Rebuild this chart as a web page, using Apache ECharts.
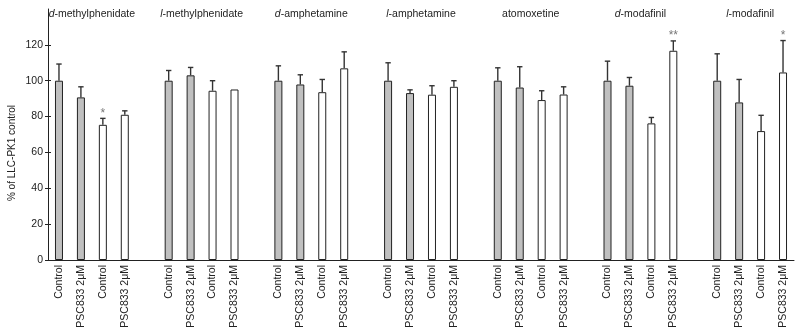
<!DOCTYPE html>
<html>
<head>
<meta charset="utf-8">
<script src="https://cdn.jsdelivr.net/npm/echarts@6/dist/echarts.min.js"></script>
<style>
  html, body { margin: 0; padding: 0; background: #fff; }
  #chart { width: 800px; height: 336px; }
</style>
</head>
<body>
<div id="chart"></div>
<script>
// drugs, each with 4 bars: gray control, gray PSC833, white control, white PSC833
const groups = ['d-methylphenidate', 'l-methylphenidate', 'd-amphetamine', 'l-amphetamine', 'atomoxetine', 'd-modafinil', 'l-modafinil']
const barLabels = ['Control', 'PSC833 2μM', 'Control', 'PSC833 2μM']
const barFill = ['#c0c0c0', '#c0c0c0', '#ffffff', '#ffffff']
const means = [
  [100, 90.7, 75.4, 81],
  [100, 103, 94.4, 95.1],
  [100, 97.9, 93.6, 106.9],
  [100, 93.1, 92.2, 96.6],
  [100, 96.2, 89.2, 92.3],
  [100, 97.2, 76.2, 116.7],
  [100, 87.9, 71.9, 104.6]
]
const errs = [
  [9.3, 5.9, 3.6, 2.2],
  [5.7, 4.4, 5.6, 0],
  [8.3, 5.4, 7.1, 9.2],
  [10, 1.8, 5, 3.4],
  [7.2, 11.6, 5.2, 4.3],
  [10.9, 4.6, 3.3, 5.5],
  [15, 12.8, 8.8, 17.8]
]
const stars = [
  ['', '', '*', ''],
  ['', '', '', ''],
  ['', '', '', ''],
  ['', '', '', ''],
  ['', '', '', ''],
  ['', '', '', '**'],
  ['', '', '', '*']
]
const yTicks = [0, 20, 40, 60, 80, 100, 120]

const FONT = "'Liberation Sans', Arial, sans-serif"
const INK = '#222'

// build slots: 4 bars per drug, an empty slot between drugs
const cats = []
const barData = []
const errData = []
const starData = []
const groupCenters = []
groups.forEach((g, gi) => {
  groupCenters.push(cats.length + 2)
  barLabels.forEach((lab, bi) => {
    errData.push([cats.length, means[gi][bi], errs[gi][bi]])
    starData.push(stars[gi][bi])
    barData.push({ value: means[gi][bi], itemStyle: { color: barFill[bi] } })
    cats.push(lab)
  })
  if (gi < groups.length - 1) {
    cats.push('')
    barData.push('-')
  }
})

const chart = echarts.init(document.getElementById('chart'))
chart.setOption({
  animation: false,
  textStyle: { fontFamily: FONT },
  grid: { left: 48, right: 6, top: 9, bottom: 76, containLabel: false, outerBoundsMode: 'none' },
  xAxis: [
    {
      type: 'category',
      data: cats,
      position: 'bottom',
      axisLine: { lineStyle: { color: INK, width: 1 } },
      axisTick: { interval: 0, length: 3, lineStyle: { color: INK } },
      axisLabel: { interval: 0, rotate: 90, margin: 5, fontSize: 10.5, color: INK, fontFamily: FONT }
    },
    {
      // inner half of the crossing ticks
      type: 'category',
      data: cats,
      position: 'bottom',
      axisLine: { show: false },
      axisTick: { inside: true, interval: 0, length: 3, lineStyle: { color: INK } },
      axisLabel: { show: false }
    },
    {
      // drug names over each group
      type: 'value',
      min: 0,
      max: cats.length,
      position: 'top',
      axisLine: { show: false },
      axisTick: { show: false },
      splitLine: { show: false },
      axisLabel: {
        inside: true,
        margin: 0,
        customValues: groupCenters,
        fontSize: 10.5,
        color: INK,
        fontFamily: FONT,
        formatter: v => {
          const name = groups[groupCenters.indexOf(v)] || ''
          const m = name.match(/^([dl])-(.*)$/)
          return m ? '{i|' + m[1] + '}-' + m[2] : name
        },
        rich: { i: { fontStyle: 'italic', fontSize: 10.5, color: INK, fontFamily: FONT } }
      }
    }
  ],
  yAxis: [
    {
      type: 'value',
      min: 0,
      max: 140,
      position: 'left',
      splitLine: { show: false },
      axisLine: { show: true, lineStyle: { color: INK, width: 1 } },
      axisTick: { show: true, length: 3, customValues: yTicks, lineStyle: { color: INK } },
      axisLabel: { customValues: yTicks, margin: 5, fontSize: 10.5, color: INK, fontFamily: FONT }
    },
    {
      type: 'value',
      min: 0,
      max: 140,
      position: 'left',
      splitLine: { show: false },
      axisLine: { show: false },
      axisTick: { show: true, inside: true, length: 3, customValues: yTicks, lineStyle: { color: INK } },
      axisLabel: { show: false }
    }
  ],
  graphic: [
    {
      type: 'text',
      x: 12,
      y: 153,
      rotation: Math.PI / 2,
      style: {
        text: '% of LLC-PK1 control',
        font: '10px ' + FONT,
        fill: INK,
        align: 'center',
        verticalAlign: 'middle'
      }
    }
  ],
  series: [
    {
      type: 'bar',
      xAxisIndex: 0,
      yAxisIndex: 0,
      data: barData,
      barWidth: 8,
      itemStyle: { borderColor: INK, borderWidth: 1 }
    },
    {
      type: 'custom',
      xAxisIndex: 0,
      yAxisIndex: 0,
      z: 3,
      data: errData,
      renderItem: (params, api) => {
        const x = api.value(0)
        const m = api.value(1)
        const e = api.value(2)
        const p0 = api.coord([x, m])
        const p1 = api.coord([x, m + e])
        const line = { stroke: '#333', lineWidth: 1.4 }
        const children = []
        if (e > 0) {
          children.push({ type: 'line', shape: { x1: p0[0], y1: p0[1], x2: p1[0], y2: p1[1] }, style: line })
          children.push({ type: 'line', shape: { x1: p1[0] - 2.7, y1: p1[1], x2: p1[0] + 2.7, y2: p1[1] }, style: line })
        }
        const s = starData[params.dataIndex]
        if (s) {
          children.push({
            type: 'text',
            style: { text: s, x: p1[0], y: p1[1] + 1, align: 'center', verticalAlign: 'bottom', fill: '#777', font: '12px ' + FONT }
          })
        }
        return { type: 'group', children }
      }
    }
  ]
})
</script>
</body>
</html>
